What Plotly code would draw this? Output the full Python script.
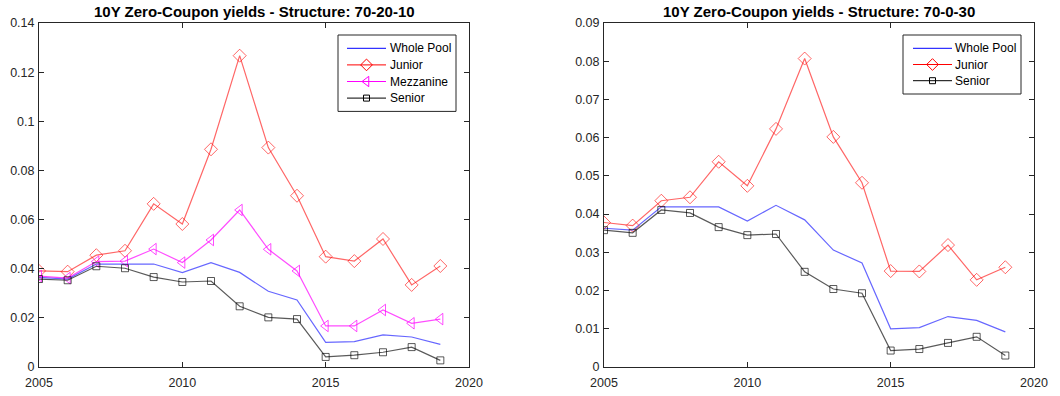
import plotly.graph_objects as go

years = list(range(2005, 2020))

# Panel 1: Structure 70-20-10
p1_whole = [0.0365, 0.0358, 0.0419, 0.0419, 0.0419, 0.0384, 0.0425, 0.0385, 0.0308, 0.0273, 0.0100, 0.0103, 0.0131, 0.0122, 0.0092]
p1_junior = [0.0391, 0.0388, 0.0455, 0.0473, 0.0664, 0.0582, 0.0886, 0.1267, 0.0893, 0.0697, 0.0449, 0.0431, 0.0521, 0.0334, 0.0411]
p1_mezz = [0.0370, 0.0362, 0.0429, 0.0431, 0.0480, 0.0425, 0.0517, 0.0639, 0.0479, 0.0391, 0.0167, 0.0167, 0.0232, 0.0178, 0.0195]
p1_senior = [0.0358, 0.0353, 0.0410, 0.0402, 0.0366, 0.0346, 0.0350, 0.0247, 0.0202, 0.0195, 0.0041, 0.0048, 0.0060, 0.0081, 0.0027]

# Panel 2: Structure 70-0-30
p2_whole = [0.0363, 0.0358, 0.0419, 0.0419, 0.0419, 0.0382, 0.0423, 0.0385, 0.0306, 0.0272, 0.0100, 0.0103, 0.0132, 0.0122, 0.0092]
p2_junior = [0.0378, 0.0370, 0.0435, 0.0444, 0.0537, 0.0474, 0.0623, 0.0807, 0.0602, 0.0482, 0.0251, 0.0250, 0.0319, 0.0228, 0.0261]
p2_senior = [0.0358, 0.0351, 0.0411, 0.0403, 0.0366, 0.0345, 0.0348, 0.0249, 0.0204, 0.0193, 0.0043, 0.0047, 0.0063, 0.0079, 0.0030]

titles = ["10Y Zero-Coupon yields - Structure: 70-20-10", "10Y Zero-Coupon yields - Structure: 70-0-30"]
x_ticks = [2005, 2010, 2015, 2020]
y1_ticks = [0, 0.02, 0.04, 0.06, 0.08, 0.1, 0.12, 0.14]
y1_labels = ["0", "0.02", "0.04", "0.06", "0.08", "0.1", "0.12", "0.14"]
y2_ticks = [0, 0.01, 0.02, 0.03, 0.04, 0.05, 0.06, 0.07, 0.08, 0.09]
y2_labels = ["0", "0.01", "0.02", "0.03", "0.04", "0.05", "0.06", "0.07", "0.08", "0.09"]

W, H = 1060, 396
FONT = "Liberation Sans, Arial, Helvetica, sans-serif"
AX = "#262626"

styles = {
    "Whole Pool": dict(line="rgba(0,0,255,0.6)", pure="#0000ff", symbol=None, size=0),
    "Junior": dict(line="rgba(255,0,0,0.6)", pure="#ff0000", symbol="diamond-open", size=10),
    "Mezzanine": dict(line="rgba(255,0,255,0.7)", pure="#ff00ff", symbol="triangle-left-open", size=10),
    "Senior": dict(line="rgba(0,0,0,0.65)", pure="#000000", symbol="square-open", size=7),
}

fig = go.Figure()

def add_series(name, y, xa, ya):
    s = styles[name]
    mode = "lines" if s["symbol"] is None else "lines+markers"
    marker = None if s["symbol"] is None else dict(symbol=s["symbol"], size=s["size"], color=s["line"],
                                                    line=dict(width=1, color=s["line"]))
    fig.add_trace(go.Scatter(x=years, y=y, mode=mode, name=name, xaxis=xa, yaxis=ya,
                             line=dict(color=s["line"], width=1.2), marker=marker,
                             showlegend=False))

panel1 = [("Whole Pool", p1_whole), ("Junior", p1_junior), ("Mezzanine", p1_mezz), ("Senior", p1_senior)]
panel2 = [("Whole Pool", p2_whole), ("Junior", p2_junior), ("Senior", p2_senior)]
for name, y in panel1:
    add_series(name, y, "x", "y")
for name, y in panel2:
    add_series(name, y, "x2", "y2")

# ---- manual legends drawn on a full-figure pixel axis pair (x3/y3) ----
shapes = []
annotations = []

def add_legend(items, box_x0, box_y0, box_x1, row_h, first_row, line_x0, line_x1, text_x):
    box_y1 = box_y0 + (first_row - box_y0) * 2 + row_h * (len(items) - 1)
    shapes.append(dict(type="rect", xref="x3", yref="y3", x0=box_x0, x1=box_x1, y0=box_y0, y1=box_y1,
                       line=dict(color=AX, width=1), fillcolor="white", layer="below"))
    for i, name in enumerate(items):
        s = styles[name]
        ry = first_row + i * row_h
        fig.add_trace(go.Scatter(x=[line_x0, line_x1], y=[ry, ry], mode="lines", xaxis="x3", yaxis="y3",
                                 line=dict(color=s["pure"], width=1), showlegend=False, hoverinfo="skip"))
        if s["symbol"] is not None:
            fig.add_trace(go.Scatter(x=[(line_x0 + line_x1) / 2], y=[ry], mode="markers", xaxis="x3", yaxis="y3",
                                     marker=dict(symbol=s["symbol"], size=s["size"] - 1, color=s["pure"],
                                                 line=dict(width=1, color=s["pure"])),
                                     showlegend=False, hoverinfo="skip"))
        annotations.append(dict(text=name, x=text_x, y=ry, xref="x3", yref="y3", showarrow=False,
                                xanchor="left", yanchor="middle",
                                font=dict(family=FONT, size=12, color="#000000")))

add_legend([n for n, _ in panel1], 338, 35, 456, 16.6, 48.3, 347, 386, 388)
add_legend([n for n, _ in panel2], 903, 35, 1021, 16.2, 48.3, 913, 952, 953)

ydom = [1 - 367 / H, 1 - 23 / H]
x1dom = [39 / W, 469 / W]
x2dom = [604 / W, 1034 / W]

axis_common = dict(showgrid=False, zeroline=False, showline=True, linecolor=AX, linewidth=1,
                   mirror="ticks", ticks="inside", ticklen=5, tickcolor=AX, tickwidth=1,
                   tickfont=dict(family=FONT, size=12.5, color=AX))

fig.update_layout(
    width=W, height=H, margin=dict(l=0, r=0, t=0, b=0, autoexpand=False),
    paper_bgcolor="white", plot_bgcolor="rgba(0,0,0,0)",
    font=dict(family=FONT, size=12, color=AX),
    xaxis=dict(domain=x1dom, range=[2005, 2020], tickvals=x_ticks, anchor="y", ticklabelstandoff=4, **axis_common),
    yaxis=dict(domain=ydom, range=[0, 0.14], tickvals=y1_ticks, ticktext=y1_labels, anchor="x", ticklabelstandoff=1, **axis_common),
    xaxis2=dict(domain=x2dom, range=[2005, 2020], tickvals=x_ticks, anchor="y2", ticklabelstandoff=4, **axis_common),
    yaxis2=dict(domain=ydom, range=[0, 0.09], tickvals=y2_ticks, ticktext=y2_labels, anchor="x2", ticklabelstandoff=1, **axis_common),
    xaxis3=dict(domain=[0, 1], range=[0, W], visible=False, fixedrange=True, anchor="y3"),
    yaxis3=dict(domain=[0, 1], range=[H, 0], visible=False, fixedrange=True, anchor="x3"),
    showlegend=False,
    shapes=shapes,
)

for title, dom in zip(titles, [x1dom, x2dom]):
    annotations.append(dict(text="<b>" + title + "</b>", x=(dom[0] + dom[1]) / 2, y=1 - 11 / H,
                            xref="paper", yref="paper", showarrow=False, xanchor="center", yanchor="middle",
                            font=dict(family=FONT, size=15, color="#000000")))
fig.update_layout(annotations=annotations)

fig.write_html("out.html")
